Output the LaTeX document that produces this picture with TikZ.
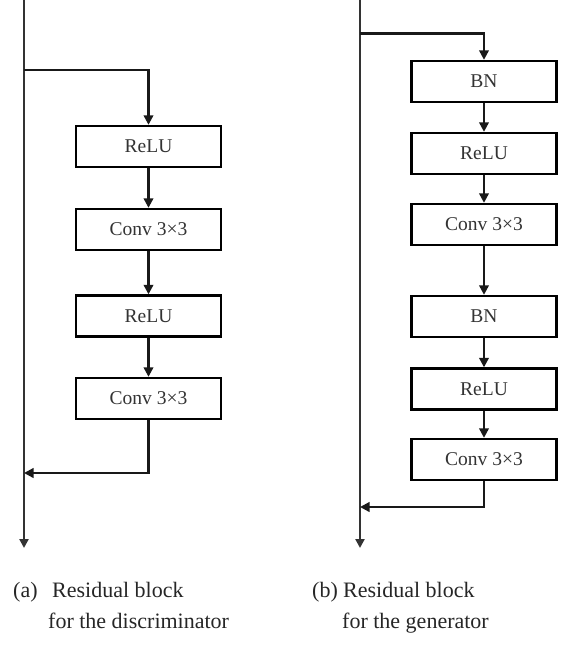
\documentclass[tikz,border=0pt]{standalone}
\usepackage{fontspec}
\setmainfont{Liberation Serif}
\usetikzlibrary{arrows.meta}
\begin{document}
\begin{tikzpicture}[x=1pt,y=-1pt,
  blk/.style={draw=black, line width=2.4pt, minimum width=145pt, minimum height=41pt, inner sep=0pt,
    font=\fontsize{19.5}{23}\selectfont, text=black!80},
  flow/.style={line width=2.2pt, draw=black!90, -{Triangle[length=9.5pt,width=9.5pt]}},
  mainline/.style={line width=2.5pt, draw=black!80, -{Triangle[length=9pt,width=9pt]}},
  captext/.style={font=\fontsize{22}{26}\selectfont, text=black!85, anchor=base west, inner sep=0pt}]
\useasboundingbox (0,0) rectangle (582,649);

% (a) discriminator
\coordinate (ainA) at (24,-2);
\coordinate (aoutA) at (24,548);
\coordinate (asplit) at (24,70);
\coordinate (ajoin) at (24,473);
\node[blk] (ar1) at (148.5,146.5) {ReLU};
\node[blk] (ac1) at (148.5,229.5) {Conv 3×3};
\node[blk] (ar2) at (148.5,316) {ReLU};
\node[blk] (ac2) at (148.5,398.5) {Conv 3×3};
\draw[mainline] (ainA) -- (aoutA);
\draw[flow] (asplit) -| (ar1.north);
\draw[flow] (ar1) -- (ac1);
\draw[flow] (ac1) -- (ar2);
\draw[flow] (ar2) -- (ac2);
\draw[flow] (ac2.south) |- (ajoin);

% (b) generator
\coordinate (binB) at (360,-2);
\coordinate (boutB) at (360,548);
\coordinate (bsplit) at (360,33.5);
\coordinate (bjoin) at (360,507);
\node[blk] (bb1) at (484,81.5) {BN};
\node[blk] (br1) at (484,153.5) {ReLU};
\node[blk] (bc1) at (484,224.5) {Conv 3×3};
\node[blk] (bb2) at (484,316.5) {BN};
\node[blk] (br2) at (484,389) {ReLU};
\node[blk] (bc2) at (484,459.5) {Conv 3×3};
\draw[mainline] (binB) -- (boutB);
\draw[flow] (bsplit) -| (bb1.north);
\draw[flow] (bb1) -- (br1);
\draw[flow] (br1) -- (bc1);
\draw[flow] (bc1) -- (bb2);
\draw[flow] (bb2) -- (br2);
\draw[flow] (br2) -- (bc2);
\draw[flow] (bc2.south) |- (bjoin);

% captions
\node[captext] (alab) at (13,597) {(a)};
\node[captext] (at1) at (52,597) {Residual block};
\node[captext] (at2) at (48,628) {for the discriminator};
\node[captext] (blab) at (312,597) {(b)};
\node[captext] (bt1) at (343,597) {Residual block};
\node[captext] (bt2) at (342,628) {for the generator};
\end{tikzpicture}
\end{document}
